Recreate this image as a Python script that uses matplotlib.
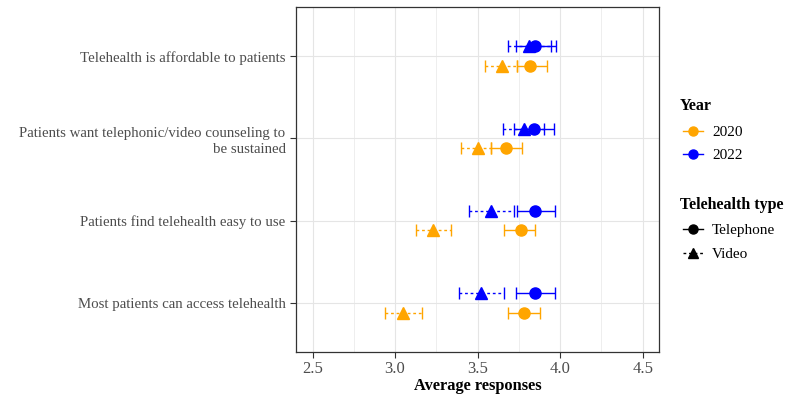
import numpy as np
import matplotlib.pyplot as plt
from matplotlib.lines import Line2D
from matplotlib.ticker import MultipleLocator

plt.rcParams['font.family'] = ['Liberation Serif', 'DejaVu Serif']

# bottom to top
categories = ['Most patients can access telehealth',
              'Patients find telehealth easy to use',
              'Patients want telephonic/video counseling to\nbe sustained',
              'Telehealth is affordable to patients']

# 2020
tel_2020 = [3.78, 3.76, 3.67, 3.82]
tel_2020_lo = [3.685, 3.66, 3.58, 3.74]
tel_2020_hi = [3.88, 3.85, 3.77, 3.92]
vid_2020 = [3.05, 3.23, 3.50, 3.65]
vid_2020_lo = [2.94, 3.125, 3.40, 3.545]
vid_2020_hi = [3.165, 3.34, 3.58, 3.74]

# 2022
tel_2022 = [3.845, 3.85, 3.84, 3.85]
tel_2022_lo = [3.73, 3.74, 3.72, 3.73]
tel_2022_hi = [3.97, 3.97, 3.96, 3.976]
vid_2022 = [3.52, 3.58, 3.78, 3.81]
vid_2022_lo = [3.385, 3.445, 3.655, 3.687]
vid_2022_hi = [3.66, 3.72, 3.90, 3.945]

years = ['2020', '2022']
types = ['Telephone', 'Video']

ORANGE = '#FFA500'
BLUE = '#0000FF'
DOTTED = (0, (2, 2))


def draw(ax, y, mean, lo, hi, color, marker, ls):
    mean = np.array(mean)
    err = np.vstack([mean - np.array(lo), np.array(hi) - mean])
    eb = ax.errorbar(mean, y, xerr=err, fmt='none', ecolor=color,
                     elinewidth=1.0, capsize=4, capthick=1.0, zorder=2)
    eb[2][0].set_linestyle(ls)
    ax.plot(mean, y, linestyle='none', marker=marker, color=color,
            markersize=8, zorder=3)


def legend_block(fig, title, labels, colors, markers, styles, y_title, y_rows):
    W, H = 800.0, 400.0
    fig.text(680 / W, 1 - y_title / H, title, fontsize=11.5,
             fontweight='bold', va='center_baseline', ha='left')
    for lab, c, m, ls, y in zip(labels, colors, markers, styles, y_rows):
        yf = 1 - y / H
        fig.add_artist(Line2D([683 / W, 703 / W], [yf, yf], color=c,
                              linewidth=1, linestyle=ls))
        fig.add_artist(Line2D([693 / W], [yf], color=c, marker=m,
                              markersize=6.5, linestyle='none'))
        fig.text(712 / W, yf, lab, fontsize=11, va='center_baseline',
                 ha='left')


def main():
    fig = plt.figure(figsize=(8, 4), dpi=100)
    ax = fig.add_axes([0.37, 0.12, 0.454, 0.8625])

    pos = np.arange(1, len(categories) + 1)
    draw(ax, pos - 0.12, tel_2020, tel_2020_lo, tel_2020_hi, ORANGE, 'o', '-')
    draw(ax, pos - 0.12, vid_2020, vid_2020_lo, vid_2020_hi, ORANGE, '^', DOTTED)
    draw(ax, pos + 0.12, tel_2022, tel_2022_lo, tel_2022_hi, BLUE, 'o', '-')
    draw(ax, pos + 0.12, vid_2022, vid_2022_lo, vid_2022_hi, BLUE, '^', DOTTED)

    ax.set_xlim(2.4, 4.6)
    ax.set_ylim(0.4, 4.6)
    ax.xaxis.set_major_locator(MultipleLocator(0.5))
    ax.xaxis.set_minor_locator(MultipleLocator(0.25))
    ax.set_yticks(pos)
    ax.set_yticklabels(categories, linespacing=1.3)
    ax.grid(True, which='major', color='#e5e5e5', linewidth=0.8)
    ax.grid(True, which='minor', axis='x', color='#ebebeb', linewidth=0.6)
    ax.set_axisbelow(True)
    ax.tick_params(axis='y', which='major', labelsize=10.7,
                   colors='#333333', labelcolor='#4d4d4d', length=4,
                   width=0.8)
    ax.tick_params(axis='x', which='major', labelsize=12,
                   colors='#333333', labelcolor='#4d4d4d', length=4,
                   width=0.8, pad=2.5)
    ax.tick_params(axis='x', which='minor', length=0)
    for s in ax.spines.values():
        s.set_color('#333333')
        s.set_linewidth(0.9)
    ax.set_xlabel('Average responses', fontsize=11.8, fontweight='bold',
                  labelpad=1)

    legend_block(fig, 'Year', years, [ORANGE, BLUE], ['o', 'o'], ['-', '-'],
                 104, [131, 154])
    legend_block(fig, 'Telehealth type', types, ['black', 'black'],
                 ['o', '^'], ['-', DOTTED], 203, [229, 253])

    fig.savefig('out.png', dpi=100)


if __name__ == '__main__':
    main()
